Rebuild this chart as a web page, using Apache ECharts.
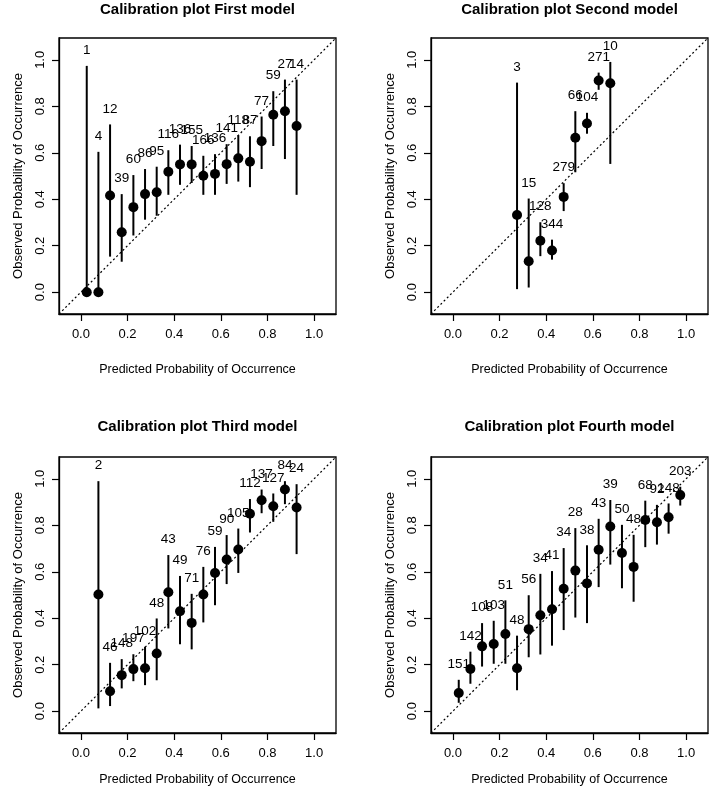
<!DOCTYPE html>
<html>
<head>
<meta charset="utf-8">
<script src="https://cdn.jsdelivr.net/npm/echarts@6/dist/echarts.min.js"></script>
<style>html,body{margin:0;padding:0;background:#fff}#c{width:709px;height:796px}</style>
</head>
<body>
<div id="c"></div>
<script>
// ---- data ----
const titles = ['Calibration plot First model','Calibration plot Second model','Calibration plot Third model','Calibration plot Fourth model'];
const xName = 'Predicted Probability of Occurrence';
const yName = 'Observed Probability of Occurrence';
const tickValues = [0, 0.2, 0.4, 0.6, 0.8, 1.0];

const x1 = [0.025,0.075,0.125,0.175,0.225,0.275,0.325,0.375,0.425,0.475,0.525,0.575,0.625,0.675,0.725,0.775,0.825,0.875,0.925];
const obs1 = [0,0,0.416,0.258,0.366,0.422,0.430,0.518,0.550,0.550,0.501,0.509,0.551,0.576,0.561,0.650,0.764,0.779,0.715];
const lo1 = [0,0,0.153,0.131,0.244,0.312,0.329,0.419,0.462,0.470,0.419,0.419,0.466,0.476,0.452,0.530,0.629,0.573,0.419];
const hi1 = [0.974,0.604,0.722,0.422,0.504,0.530,0.540,0.611,0.635,0.629,0.587,0.594,0.637,0.675,0.671,0.756,0.865,0.915,0.915];
const n1 = [1,4,12,39,60,86,95,116,136,155,166,136,141,118,87,77,59,27,14];

const x2 = [0.275,0.325,0.375,0.425,0.475,0.525,0.575,0.625,0.675];
const obs2 = [0.332,0.133,0.221,0.179,0.410,0.665,0.726,0.911,0.899];
const lo2 = [0.013,0.020,0.155,0.140,0.349,0.516,0.682,0.871,0.552];
const hi2 = [0.902,0.403,0.301,0.226,0.469,0.779,0.772,0.945,0.991];
const n2 = [3,15,128,344,279,66,104,271,10];

const x3 = [0.075,0.125,0.175,0.225,0.275,0.325,0.375,0.425,0.475,0.525,0.575,0.625,0.675,0.725,0.775,0.825,0.875,0.925];
const obs3 = [0.502,0.086,0.155,0.181,0.185,0.248,0.512,0.430,0.380,0.502,0.595,0.653,0.696,0.850,0.908,0.882,0.954,0.877];
const lo3 = [0.012,0.022,0.098,0.129,0.112,0.133,0.356,0.288,0.266,0.382,0.456,0.547,0.595,0.769,0.852,0.815,0.891,0.676];
const hi3 = [0.990,0.208,0.224,0.245,0.277,0.399,0.672,0.582,0.505,0.621,0.707,0.758,0.786,0.913,0.954,0.937,0.990,0.977];
const n3 = [2,46,148,197,102,48,43,49,71,76,59,90,105,112,137,127,84,24];

const x4 = [0.025,0.075,0.125,0.175,0.225,0.275,0.325,0.375,0.425,0.475,0.525,0.575,0.625,0.675,0.725,0.775,0.825,0.875,0.925,0.975];
const obs4 = [0.078,0.182,0.279,0.289,0.332,0.185,0.353,0.413,0.439,0.527,0.605,0.550,0.695,0.795,0.681,0.621,0.823,0.813,0.835,0.930];
const lo4 = [0.036,0.118,0.192,0.204,0.204,0.090,0.232,0.244,0.282,0.349,0.403,0.379,0.534,0.631,0.529,0.471,0.706,0.717,0.764,0.885];
const hi4 = [0.135,0.256,0.379,0.389,0.477,0.325,0.499,0.591,0.603,0.702,0.788,0.714,0.828,0.909,0.802,0.759,0.906,0.888,0.894,0.966];
const n4 = [151,142,108,103,51,48,56,34,41,34,28,38,43,39,50,48,68,92,148,203];

const panels = [
  {x:x1, obs:obs1, lo:lo1, hi:hi1, n:n1},
  {x:x2, obs:obs2, lo:lo2, hi:hi2, n:n2},
  {x:x3, obs:obs3, lo:lo3, hi:hi3, n:n3},
  {x:x4, obs:obs4, lo:lo4, hi:hi4, n:n4}
];

// ---- layout ----
const AX_MIN = -0.094, AX_MAX = 1.094;
const FONT = 'Liberation Sans, Arial, sans-serif';
const ink = '#000';
const grids = [
  {left:59, top:38, width:277, height:276},
  {left:431, top:38, width:277, height:276},
  {left:59, top:457, width:277, height:276},
  {left:431, top:457, width:277, height:276}
];

const chart = echarts.init(document.getElementById('c'), null, {renderer:'canvas'});

const xAxes = [], yAxes = [], series = [], graphics = [];
grids.forEach((g, i) => {
  g.show = true; g.borderColor = '#000'; g.borderWidth = 1.3; g.backgroundColor = '#fff';
  xAxes.push({
    type:'value', gridIndex:i, min:AX_MIN, max:AX_MAX,
    axisLine:{show:true, onZero:false, lineStyle:{color:'#000', width:1.3}},
    splitLine:{show:false},
    axisTick:{show:true, length:7, lineStyle:{color:'#000', width:1.2}, customValues:tickValues},
    axisLabel:{customValues:tickValues, formatter:v=>Number(v).toFixed(1), fontSize:13, color:ink, margin:14, fontFamily:FONT},
    name:xName, nameLocation:'middle', nameGap:(i<2 ? 49 : 40),
    nameTextStyle:{fontSize:12.5, color:ink, fontFamily:FONT}
  });
  yAxes.push({
    type:'value', gridIndex:i, min:AX_MIN, max:AX_MAX,
    axisLine:{show:true, onZero:false, lineStyle:{color:'#000', width:1.3}},
    splitLine:{show:false},
    axisTick:{show:true, length:7, lineStyle:{color:'#000', width:1.2}, customValues:tickValues},
    axisLabel:{customValues:tickValues, formatter:v=>Number(v).toFixed(1), fontSize:13, color:ink, margin:12, rotate:90, fontFamily:FONT},
    name:yName, nameLocation:'middle', nameGap:34,
    nameTextStyle:{fontSize:13, color:ink, fontFamily:FONT}
  });
  const p = panels[i];
  // reference diagonal
  series.push({
    type:'line', xAxisIndex:i, yAxisIndex:i, silent:true, showSymbol:false, symbol:'none',
    data:[[AX_MIN, AX_MIN],[AX_MAX, AX_MAX]],
    lineStyle:{color:'#000', width:1.2, type:[2,2.5]}, z:1
  });
  // error bars
  series.push({
    type:'custom', xAxisIndex:i, yAxisIndex:i, silent:true, z:2,
    data:p.x.map((xv,k)=>[xv, p.lo[k], p.hi[k]]),
    encode:{x:0, y:[1,2]},
    renderItem:(params, api) => {
      const a = api.coord([api.value(0), api.value(1)]);
      const b = api.coord([api.value(0), api.value(2)]);
      return {type:'line', shape:{x1:a[0], y1:a[1], x2:b[0], y2:b[1]}, style:{stroke:'#000', lineWidth:2}};
    }
  });
  // points
  series.push({
    type:'scatter', xAxisIndex:i, yAxisIndex:i, silent:true, z:3,
    symbol:'circle', symbolSize:10, itemStyle:{color:'#000', opacity:1},
    data:p.x.map((xv,k)=>[xv, p.obs[k]])
  });
  // count labels above the upper bound
  series.push({
    type:'scatter', xAxisIndex:i, yAxisIndex:i, silent:true, z:4,
    symbol:'circle', symbolSize:1, itemStyle:{color:'#fff', opacity:0},
    data:p.x.map((xv,k)=>[xv, p.hi[k], p.n[k]]),
    label:{show:true, position:'top', distance:8, formatter:d=>String(d.value[2]), fontSize:13.5, color:'#000', opacity:1, fontFamily:FONT}
  });
  graphics.push({
    type:'text', x:g.left + g.width/2, y:(i<2 ? 10 : 427),
    style:{text:titles[i], font:'bold 15px ' + FONT, fill:ink, textAlign:'center', textVerticalAlign:'middle'}
  });
});

chart.setOption({
  backgroundColor:'#fff',
  animation:false,
  grid:grids,
  xAxis:xAxes,
  yAxis:yAxes,
  series:series,
  graphic:graphics
});
</script>
</body>
</html>
